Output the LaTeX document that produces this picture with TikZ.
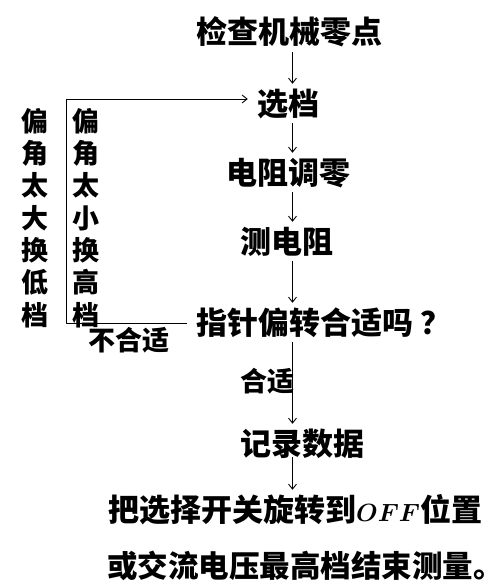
\documentclass[tikz,border=0pt]{standalone}
\usepackage{fontspec}
\newfontfamily\cjk{Noto Sans CJK SC}
\usetikzlibrary{arrows.meta}
\tikzset{
  lbl/.style={font=\cjk\bfseries\boldmath\fontsize{31}{36}\selectfont, inner sep=0pt, text height=24pt, text depth=2pt},
  small/.style={font=\cjk\bfseries\fontsize{27}{32.3}\selectfont, inner sep=0pt, align=center},
  flow/.style={line width=0.9pt, -{Straight Barb[length=5pt,width=8pt]}, shorten <=6pt, shorten >=7pt}
}
\begin{document}
\begin{tikzpicture}[x=1pt, y=-1pt, line join=round]
    \useasboundingbox (0,0) rectangle (503,586);
    \node[lbl] (chk) at (289,33) {检查机械零点};
    \node[lbl] (xd) at (288,104) {选档};
    \node[lbl] (dz) at (288,173) {电阻调零};
    \node[lbl] (cd) at (287,242) {测电阻};
    \node[lbl, anchor=west] (zz) at (196,323) {指针偏转合适吗\hspace{0.25em}？};
    \node[lbl] (jl) at (302,444) {记录数据};
    \node[lbl, anchor=west] (off) at (108,510) {把选择开关旋转到$OFF$位置};
    \node[lbl, anchor=west, font=\cjk\bfseries\fontsize{30.5}{36}\selectfont] (fin) at (107,566) {或交流电压最高档结束测量\makebox[0.5em][l]{。}};
    \node[small] (hs) at (267,381) {合适};
    \node[small] (bhs) at (129,340) {不合适};
    \node[small] (dd) at (35,218) {偏\\角\\太\\大\\换\\低\\档};
    \node[small] (xx) at (86,218) {偏\\角\\太\\小\\换\\高\\档};
    \coordinate (ax) at (292.5,0);
    \coordinate (lp) at (66,99);
    % main steps
    \draw[flow] (chk.south -| ax) -- (xd.north -| ax);
    \draw[flow] (xd.south -| ax) -- (dz.north -| ax);
    \draw[flow] (dz.south -| ax) -- (cd.north -| ax);
    \draw[flow] (cd.south -| ax) -- (zz.north -| ax);
    \draw[flow] (zz.south -| ax) -- (jl.north -| ax);
    \draw[flow, shorten <=0pt] (jl.south -| ax) -- (off.north -| ax);
    % back to range selection
    \draw[flow, shorten <=9pt, shorten >=9pt] (zz.west) -| (lp) -- (lp -| xd.west);
\end{tikzpicture}
\end{document}
